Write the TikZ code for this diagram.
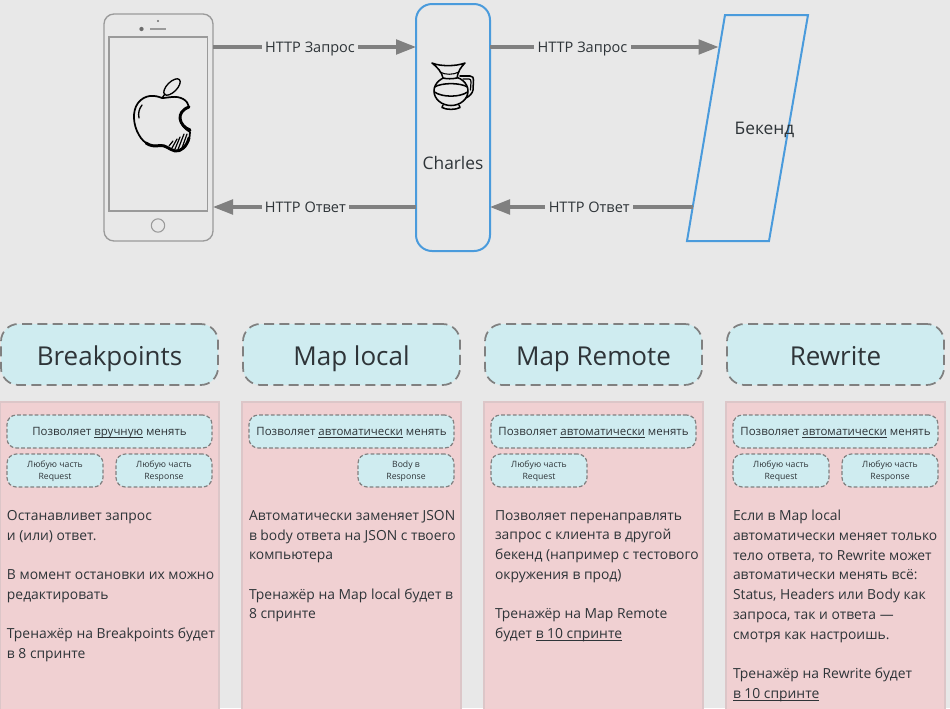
\documentclass[tikz,border=0pt]{standalone}
\usepackage{fontspec}
\setmainfont{Open Sans}
\usetikzlibrary{arrows.meta,calc}
\definecolor{bgc}{HTML}{E8E8E8}
\definecolor{hdrc}{HTML}{CFECF0}
\definecolor{panc}{HTML}{F0D0D2}
\definecolor{panl}{HTML}{DCC6C8}
\definecolor{bluc}{HTML}{4A9BDC}
\definecolor{gryc}{HTML}{808080}
\definecolor{phnc}{HTML}{9A9A9A}
\definecolor{txtc}{HTML}{2E3438}
\newcommand{\ulin}[1]{\setbox0\hbox{#1}\rlap{\vrule height -0.12em depth 0.18em width \wd0}\box0\relax}
\tikzset{
  x=0.75pt,y=-0.75pt,
  every node/.style={inner sep=0pt,outer sep=0pt,text=txtc},
  sized/.style n args={2}{minimum width=#1*0.75pt,minimum height=#2*0.75pt,anchor=north west},
  phonebox/.style={draw=phnc,line width=1pt,rounded corners=7.5pt},
  phonepart/.style={draw=phnc,line width=1pt},
  charlesbox/.style={draw=bluc,line width=1.5pt,rounded corners=12pt},
  backendbox/.style={draw=bluc,line width=1.5pt,line join=miter},
  flow/.style={draw=gryc,line width=2.4pt,-{Triangle[length=15pt,width=11pt,fill=gryc]}},
  flowlab/.style={fill=bgc,font=\fontsize{10.9pt}{12pt}\selectfont,inner xsep=2.5pt,inner ysep=0pt,text height=9.5pt,text depth=2pt},
  hdrbox/.style={fill=hdrc,draw=gryc,line width=1.3pt,dash pattern=on 7.5pt off 4pt,rounded corners=13pt,font=\fontsize{19.5pt}{23pt}\selectfont,text height=16pt,text depth=0.2pt},
  panbox/.style={fill=panc,draw=panl,line width=.8pt},
  capbox/.style={fill=hdrc,draw=gryc,line width=.9pt,dash pattern=on 2.8pt off 1.6pt,rounded corners=7pt,font=\fontsize{8.6pt}{12pt}\selectfont,text height=6.6pt,text depth=0.2pt},
  subbox/.style={fill=hdrc,draw=gryc,line width=.9pt,dash pattern=on 2.8pt off 1.6pt,rounded corners=7pt,align=center,font=\fontsize{6.5pt}{9pt}\selectfont,text depth=0.6pt},
  bodytext/.style={anchor=north west,align=left,font=\fontsize{10.4pt}{14.8pt}\selectfont},
  picline/.style={draw=black,line width=1pt,line join=round,line cap=round},
  picthick/.style={draw=black,line width=2.2pt,line join=round,line cap=round},
  jugline/.style={draw=black,line width=1.15pt,line join=round,line cap=round},
}
\newcommand{\panelbase}[4]{%
  \node[hdrbox,sized={217}{61}] (#1h) at (1+#2,324) {#3};
  \node[panbox,sized={219}{320}] (#1p) at (0+#2,402) {};
  \node[capbox,sized={205}{33}] (#1c) at (7+#2,415) {#4};
}
\begin{document}
\begin{tikzpicture}
\clip (0,0) rectangle (950,708);
\fill[bgc] (0,0) rectangle (950,708);

% phone
\node[phonebox,sized={109}{227}] (phone) at (104,14) {};
\node[phonepart,sized={98.5}{174}] (screen) at (109,37) {};
\node[phonepart,circle,minimum size=10pt,line width=.8pt] (home) at (158,225.5) {};
\draw[phonepart,line width=1.3pt] (150,29) -- (166,29);
\fill[phnc!70!black] (141.5,29) circle[radius=1.6pt];
\fill[phnc!70!black] (158,21) circle[radius=.8pt];

% apple
\draw[picline,line width=1.3pt]
  (162,98) .. controls (155,95) and (145,94) .. (138,103)
  .. controls (132,111) and (133,125) .. (139,135)
  .. controls (144,144) and (152,147) .. (160,145.5)
  .. controls (166,145) and (168,149) .. (175,151)
  .. controls (183,152) and (190,143) .. (190,132)
  .. controls (179,126) and (175,112) .. (189,107)
  .. controls (188,100) and (180,96) .. (172,97)
  .. controls (169,97) and (166,98) .. (162,98);
\draw[picthick] (190,130) .. controls (179,126) and (175,112) .. (189,107);
\draw[picthick] (146,143) .. controls (150,146) and (155,146.5) .. (160,145.5) .. controls (166,145) and (168,149) .. (175,151) .. controls (181,152) and (187,146) .. (189,138);
\draw[picline,rotate around={45:(172,87)}] (172,87) ellipse[x radius=10.5,y radius=5];
\draw[picline] (162,98) -- (165,94);
\draw[picline] (139,118) .. controls (138,113) and (139,109) .. (142,105);
\foreach \a/\b/\c/\d in {169/146/173/141, 172/148/177/139, 175/149/180/137, 178/149.5/184/134, 182/148/187/134}
  \draw[picline,line width=.9pt] (\a,\b) -- (\c,\d);

% charles
\node[charlesbox,sized={74}{247}] (charles) at (416,4) {};
\node[font=\fontsize{13pt}{15pt}\selectfont] (charleslab) at (453,163) {Charles};

% jug
\draw[jugline] (451,91) ellipse[x radius=17,y radius=14.5];
\draw[jugline,fill=bgc] (432,63) .. controls (440,66.5) and (456,66.5) .. (465,63) .. controls (461,67) and (458,71) .. (457,78) .. controls (452,79) and (447,79) .. (443,78) .. controls (442,72) and (437,67) .. (432,63) -- cycle;
\draw[jugline,line width=.8pt] (440,72) .. controls (445,75) and (453,75) .. (459,72);
\draw[jugline] (434.5,87) .. controls (442,82.5) and (460,82.5) .. (467.5,87);
\draw[jugline] (434.5,92) .. controls (442,97.5) and (460,97.5) .. (467.5,92);
\draw[jugline] (443,105) -- (442,107.5) .. controls (446,110) and (456,110) .. (460,107.5) -- (459,105);
\draw[jugline] (460,76) -- (470,76) .. controls (473,76) and (473.5,78) .. (473.5,80) -- (473,90) .. controls (472.5,93) and (470,96) .. (466,98);
\draw[jugline,line width=.9pt] (463,79) -- (469,79) .. controls (470.5,79) and (471,80) .. (471,82) -- (470.5,90);

% backend
\coordinate (btl) at (725,15);
\coordinate (btr) at (808,15);
\coordinate (bbr) at (769,241);
\coordinate (bbl) at (687,241);
\draw[backendbox] (btl) -- (btr) -- (bbr) -- (bbl) -- cycle;
\node[font=\fontsize{13pt}{15pt}\selectfont] (backend) at (764.5,129.5) {Бекенд};

% connectors
\coordinate (reqy) at (0,47);
\coordinate (resy) at (0,207);
\coordinate (bin) at (718.5,47);
\coordinate (bout) at (692.5,207);
\draw[flow] (phone.east |- reqy) -- node[flowlab,pos=.478] (l1) {HTTP Запрос} (charles.west |- reqy);
\draw[flow] (charles.east |- reqy) -- node[flowlab,pos=.405] (l2) {HTTP Запрос} (bin);
\draw[flow] (charles.west |- resy) -- node[flowlab,pos=.545] (l3) {HTTP Ответ} (phone.east |- resy);
\draw[flow] (bout) -- node[flowlab,pos=.51] (l4) {HTTP Ответ} (charles.east |- resy);

% panels
\panelbase{a}{0}{Breakpoints}{Позволяет \ulin{вручную} менять}
\node[subbox,sized={96}{33}] (as1) at (7,454) {Любую часть\\Request};
\node[subbox,sized={96}{33}] (as2) at (116,454) {Любую часть\\Response};
\node[bodytext] (at) at (7,510.2) {Останавливет запрос\\и (или) ответ.\\[14.8pt]В момент остановки их можно\\редактировать\\[14.8pt]Тренажёр на Breakpoints будет\\в 8 спринте};

\panelbase{b}{242}{Map local}{Позволяет \ulin{автоматически} менять}
\node[subbox,sized={96}{33}] (bs2) at (358,454) {Body в\\Response};
\node[bodytext] (bt) at (249,510.2) {Автоматически заменяет JSON\\в body ответа на JSON с твоего\\компьютера\\[14.8pt]Тренажёр на Map local будет в\\8 спринте};

\panelbase{c}{484}{Map Remote}{Позволяет \ulin{автоматически} менять}
\node[subbox,sized={96}{33}] (cs1) at (491,454) {Любую часть\\Request};
\node[bodytext] (ct) at (495,510.2) {Позволяет перенаправлять\\запрос с клиента в другой\\бекенд (например с тестового\\окружения в прод)\\[14.8pt]Тренажёр на Map Remote\\будет \ulin{в 10 спринте}};

\panelbase{d}{726}{Rewrite}{Позволяет \ulin{автоматически} менять}
\node[subbox,sized={96}{33}] (ds1) at (733,454) {Любую часть\\Request};
\node[subbox,sized={96}{33}] (ds2) at (842,454) {Любую часть\\Response};
\node[bodytext] (dt) at (733,510.2) {Если в Map local\\автоматически меняет только\\тело ответа, то Rewrite может\\автоматически менять всё:\\Status, Headers или Body как\\запроса, так и ответа —\\смотря как настроишь.\\[14.8pt]Тренажёр на Rewrite будет\\\ulin{в 10 спринте}};
\end{tikzpicture}
\end{document}
